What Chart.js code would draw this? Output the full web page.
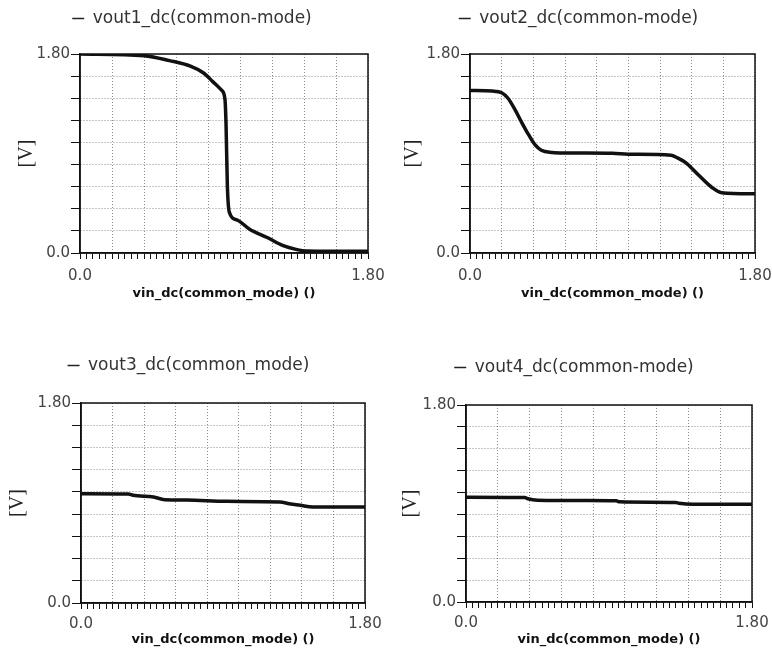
<!DOCTYPE html>
<html>
<head>
<meta charset="utf-8">
<script src="https://cdn.jsdelivr.net/npm/chart.js@4"></script>
<style>
  body { margin: 0; background: #fff; }
  .panel { position: absolute; }
</style>
</head>
<body>
<div class="panel" style="left:0;top:0"><canvas id="c1" width="386" height="310"></canvas></div>
<div class="panel" style="left:386px;top:0"><canvas id="c2" width="386" height="310"></canvas></div>
<div class="panel" style="left:0;top:340px"><canvas id="c3" width="386" height="308"></canvas></div>
<div class="panel" style="left:386px;top:340px"><canvas id="c4" width="386" height="308"></canvas></div>
<script>
// Datos (V)
const vin1 = [0, 0.4, 0.56, 0.69, 0.77, 0.83, 0.886, 0.906, 0.913, 0.921, 0.933, 0.98, 1.06, 1.17, 1.27, 1.35, 1.42, 1.8];
const vout1 = [1.8, 1.785, 1.74, 1.69, 1.63, 1.55, 1.47, 1.39, 1.15, 0.61, 0.37, 0.3, 0.215, 0.14, 0.066, 0.033, 0.018, 0.015];

const vin2 = [0, 0.14, 0.2, 0.24, 0.285, 0.327, 0.37, 0.41, 0.45, 0.52, 0.6, 0.9, 1.0, 1.27, 1.31, 1.36, 1.44, 1.53, 1.59, 1.8];
const vout2 = [1.47, 1.465, 1.45, 1.4, 1.295, 1.18, 1.07, 0.98, 0.93, 0.91, 0.905, 0.902, 0.893, 0.885, 0.86, 0.82, 0.71, 0.59, 0.545, 0.535];

const vin3 = [0, 0.3, 0.33, 0.46, 0.53, 0.67, 0.92, 1.26, 1.32, 1.39, 1.47, 1.8];
const vout3 = [0.984, 0.981, 0.969, 0.954, 0.93, 0.927, 0.915, 0.909, 0.894, 0.879, 0.864, 0.864];

const vin4 = [0, 0.37, 0.39, 0.45, 0.76, 0.945, 0.966, 1.32, 1.34, 1.43, 1.8];
const vout4 = [0.958, 0.955, 0.943, 0.93, 0.927, 0.924, 0.915, 0.909, 0.903, 0.894, 0.894];

const legendLabels = ["vout1_dc(common-mode)", "vout2_dc(common-mode)", "vout3_dc(common_mode)", "vout4_dc(common-mode)"];
const xTitle = "vin_dc(common_mode) ()";
const yTitle = "[V]";
const axisMax = 1.8;

// Posiciones de cada panel (px dentro de su canvas)
const panels = [
  { id: "c1", xs: vin1, ys: vout1, label: legendLabels[0], padTop: 0, legendH: 54, legendShift: 8, yAxisW: 80, padRight: 18, xAxisH: 57, yTitlePad: 15, xTitlePad: 9, xTickPad: 8 },
  { id: "c2", xs: vin2, ys: vout2, label: legendLabels[1], padTop: 0, legendH: 54, legendShift: 8, yAxisW: 84, padRight: 17, xAxisH: 57, yTitlePad: 15, xTitlePad: 9, xTickPad: 8 },
  { id: "c3", xs: vin3, ys: vout3, label: legendLabels[2], padTop: 7, legendH: 56, legendShift: 6, yAxisW: 81, padRight: 21, xAxisH: 45, yTitlePad: 6, xTitlePad: 1, xTickPad: 6 },
  { id: "c4", xs: vin4, ys: vout4, label: legendLabels[3], padTop: 9, legendH: 56, legendShift: 5, yAxisW: 80, padRight: 20, xAxisH: 46, yTitlePad: 13, xTitlePad: 1, xTickPad: 6 },
];

Chart.defaults.font.family = "'DejaVu Sans', sans-serif";

const tickText = (v) => {
  if (Math.abs(v) < 1e-6) return "0.0";
  if (Math.abs(v - axisMax) < 1e-6) return "1.80";
  return "";
};
const isMajor = (v) => Math.abs(v / 0.2 - Math.round(v / 0.2)) < 1e-6;
const gridDots = "rgba(0, 0, 0, 0.45)";

// marco superior y derecho del área del gráfico
const framePlugin = {
  id: "frame",
  afterDraw(chart) {
    const { ctx, chartArea: a } = chart;
    ctx.save();
    ctx.strokeStyle = "#111";
    ctx.lineWidth = 1.5;
    ctx.strokeRect(a.left, a.top, a.right - a.left, a.bottom - a.top);
    ctx.restore();
  },
};

const buildChart = (p) => {
  // altura fija y desplazamiento de la leyenda
  const legendBox = {
    id: "legendBox",
    beforeInit(chart) {
      const fit = chart.legend.fit;
      chart.legend.fit = function () {
        fit.call(this);
        this.height = p.legendH;
      };
    },
    afterLayout(chart) {
      chart.legend.left += p.legendShift;
      chart.legend.right += p.legendShift;
    },
  };

  return new Chart(document.getElementById(p.id), {
    type: "line",
    data: {
      datasets: [
        {
          label: p.label,
          data: p.xs.map((x, i) => ({ x, y: p.ys[i] })),
          borderColor: "#111",
          borderWidth: 3.5,
          pointRadius: 0,
          cubicInterpolationMode: "monotone",
          fill: false,
        },
      ],
    },
    options: {
      responsive: false,
      animation: false,
      events: [],
      layout: { padding: { top: p.padTop, left: 0, right: p.padRight, bottom: 0 } },
      scales: {
        x: {
          type: "linear",
          min: 0,
          max: axisMax,
          ticks: {
            stepSize: 0.04,
            autoSkip: false,
            maxRotation: 0,
            padding: p.xTickPad,
            color: "#444",
            font: { size: 15 },
            callback: tickText,
          },
          grid: {
            color: (c) => (c.tick && isMajor(c.tick.value) ? gridDots : "transparent"),
            tickColor: "#111",
            tickLength: 6,
          },
          border: { color: "#111", width: 1.5, dash: [1, 2] },
          title: {
            display: true,
            text: xTitle,
            color: "#111",
            font: { size: 13, weight: "bold" },
            padding: { top: 0, bottom: p.xTitlePad },
          },
          afterFit: (s) => {
            s.height = p.xAxisH;
            s.paddingLeft = 0;
            s.paddingRight = 0;
          },
        },
        y: {
          type: "linear",
          min: 0,
          max: axisMax,
          ticks: {
            stepSize: 0.2,
            autoSkip: false,
            padding: 1,
            color: "#444",
            font: { size: 15 },
            callback: tickText,
          },
          grid: {
            color: gridDots,
            tickColor: "#111",
            tickLength: 9,
          },
          border: { color: "#111", width: 1.5, dash: [1, 2] },
          title: {
            display: true,
            text: yTitle,
            color: "#222",
            font: { family: "'Liberation Serif', serif", size: 20 },
            padding: { top: p.yTitlePad, bottom: 0 },
          },
          afterFit: (s) => { s.width = p.yAxisW; },
        },
      },
      plugins: {
        legend: {
          display: true,
          position: "top",
          labels: {
            color: "#333",
            font: { size: 17 },
            usePointStyle: true,
            pointStyle: "line",
            pointStyleWidth: 12,
            boxHeight: 12,
            generateLabels: (chart) =>
              Chart.defaults.plugins.legend.labels
                .generateLabels(chart)
                .map((item) => Object.assign(item, { lineWidth: 1.5, strokeStyle: "#222" })),
          },
        },
        tooltip: { enabled: false },
      },
    },
    plugins: [legendBox, framePlugin],
  });
};

panels.forEach(buildChart);
</script>
</body>
</html>
